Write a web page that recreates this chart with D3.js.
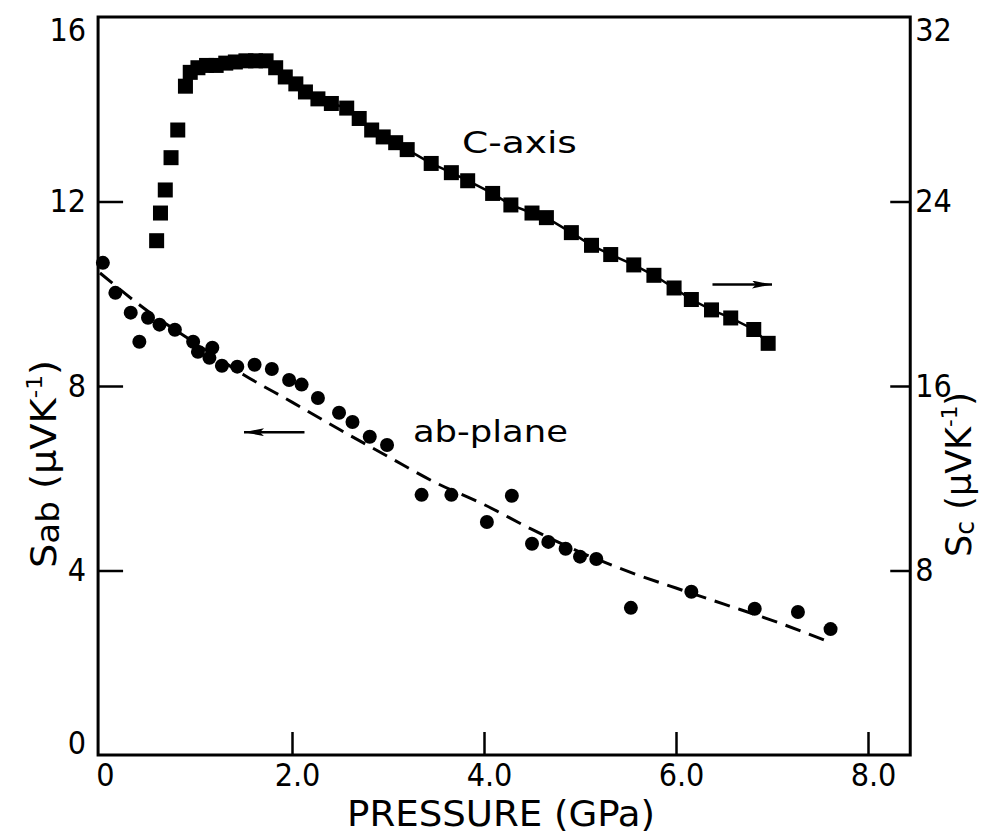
<!DOCTYPE html>
<html>
<head>
<meta charset="utf-8">
<script src="https://cdn.jsdelivr.net/npm/d3@7"></script>
<style>
  body { margin: 0; background: #fff; }
  svg { display: block; }
</style>
</head>
<body>
<div id="chart-container"></div>
<script>
// Données
// Axe c (carrés, échelle de droite)
const pressionC = [0.59, 0.63, 0.68, 0.74, 0.81, 0.89, 0.94, 1.02, 1.11, 1.21, 1.31, 1.41, 1.52, 1.62, 1.73,
    1.83, 1.93, 2.04, 2.14, 2.27, 2.41, 2.57, 2.70, 2.83, 2.95, 3.08, 3.20, 3.45, 3.66, 3.83,
    4.09, 4.28, 4.50, 4.65, 4.91, 5.12, 5.32, 5.56, 5.77, 5.98, 6.16, 6.37, 6.57, 6.81, 6.96];
const seebeckC = [22.3, 23.5, 24.5, 25.9, 27.1, 29.0, 29.6, 29.8, 29.9, 29.9, 30.0, 30.05, 30.1, 30.1, 30.1,
    29.8, 29.4, 29.1, 28.75, 28.45, 28.25, 28.05, 27.6, 27.1, 26.8, 26.55, 26.25, 25.65, 25.25, 24.9,
    24.35, 23.85, 23.5, 23.3, 22.65, 22.1, 21.7, 21.25, 20.8, 20.25, 19.75, 19.3, 18.95, 18.45, 17.85];

// Plan ab (cercles, échelle de gauche)
const pressionAb = [0.03, 0.16, 0.32, 0.41, 0.50, 0.62, 0.78, 0.97, 1.02, 1.17, 1.14, 1.27, 1.43, 1.61, 1.79,
    1.97, 2.10, 2.27, 2.49, 2.63, 2.81, 2.99, 3.35, 3.66, 4.03, 4.29, 4.50, 4.67, 4.85, 5.00,
    5.17, 5.53, 6.16, 6.82, 7.27, 7.61];
const seebeckAb = [10.67, 10.02, 9.59, 8.96, 9.48, 9.33, 9.22, 8.96, 8.74, 8.83, 8.61, 8.44, 8.42, 8.46, 8.37,
    8.13, 8.03, 7.74, 7.42, 7.22, 6.90, 6.72, 5.64, 5.64, 5.05, 5.62, 4.58, 4.62, 4.47, 4.30,
    4.25, 3.19, 3.54, 3.17, 3.10, 2.73];

// Courbe en tirets (ajustement du plan ab)
const ajustP = [0, 0.5, 1.0, 1.5, 2.0, 2.5, 3.0, 3.5, 4.0, 4.5, 5.0, 5.5, 6.0, 6.5, 7.0, 7.62];
const ajustS = [10.45, 9.62, 8.92, 8.24, 7.65, 7.05, 6.47, 5.9, 5.43, 4.89, 4.4, 3.98, 3.62, 3.27, 2.92, 2.43];

// Graduations
const xTicks = [0, 2, 4, 6, 8];
const xTickLabels = ["0", "2.0", "4.0", "6.0", "8.0"];
const yGaucheTicks = [0, 4, 8, 12, 16];
const yDroiteTicks = [8, 16, 24, 32];

document.addEventListener('DOMContentLoaded', () => {
    const W = 982, H = 835;
    const police = "'DejaVu Sans Condensed', 'DejaVu Sans', sans-serif";

    const svg = d3.select("#chart-container")
        .append("svg")
        .attr("width", W)
        .attr("height", H)
        .style("font-family", police);

    // Échelles
    const x = d3.scaleLinear().domain([0, 8]).range([100, 868]);
    const yG = d3.scaleLinear().domain([0, 16]).range([755, 17]);
    const yD = d3.scaleLinear().domain([0, 32]).range([755, 17]);
    const xMin = -0.02, xMax = 8.44;

    // Cadre
    svg.append("rect")
        .attr("x", x(xMin))
        .attr("y", yG(16))
        .attr("width", x(xMax) - x(xMin))
        .attr("height", yG(0) - yG(16))
        .attr("fill", "none")
        .attr("stroke", "#000")
        .attr("stroke-width", 3);

    // Axe X
    svg.append("g")
        .attr("transform", `translate(0,${yG(0)})`)
        .call(d3.axisBottom(x).tickValues(xTicks).tickFormat((d, i) => xTickLabels[i]).tickSize(-23).tickPadding(8))
        .call(g => g.select(".domain").remove())
        .call(g => g.selectAll(".tick").filter(d => d === 0).select("line").remove())
        .call(g => g.selectAll(".tick line").attr("stroke-width", 2.5))
        .selectAll("text")
        .attr("dx", 5)
        .style("font-size", "32px")
        .style("font-family", police)
        .style("fill", "#000");

    // Axe Y gauche
    svg.append("g")
        .attr("transform", `translate(${x(xMin)},0)`)
        .call(d3.axisLeft(yG).tickValues(yGaucheTicks).tickSize(-25).tickPadding(12))
        .call(g => g.select(".domain").remove())
        .call(g => g.selectAll(".tick").filter(d => d === 0 || d === 16).select("line").remove())
        .call(g => g.selectAll(".tick line").attr("stroke-width", 2.5))
        .selectAll("text")
        .attr("y", d => d === 16 ? 13 : d === 0 ? -12 : 0)
        .style("font-size", "32px")
        .style("font-family", police)
        .style("fill", "#000");

    // Axe Y droit
    svg.append("g")
        .attr("transform", `translate(${x(xMax)},0)`)
        .call(d3.axisRight(yD).tickValues(yDroiteTicks).tickSize(-20).tickPadding(5))
        .call(g => g.select(".domain").remove())
        .call(g => g.selectAll(".tick").filter(d => d === 32).select("line").remove())
        .call(g => g.selectAll(".tick line").attr("stroke-width", 2.5))
        .selectAll("text")
        .attr("y", d => d === 32 ? 13 : 0)
        .style("font-size", "32px")
        .style("font-family", police)
        .style("fill", "#000");

    // Courbe ajustée en tirets
    const ajust = ajustP.map((p, i) => [p, ajustS[i]]);
    svg.append("path")
        .datum(ajust)
        .attr("fill", "none")
        .attr("stroke", "#000")
        .attr("stroke-width", 3)
        .attr("stroke-dasharray", "16,9")
        .attr("d", d3.line().x(d => x(d[0])).y(d => yG(d[1])).curve(d3.curveMonotoneX));

    // Ligne continue à travers les carrés
    const caxe = pressionC.map((p, i) => [p, seebeckC[i]]);
    svg.append("path")
        .datum(caxe.slice(5))
        .attr("fill", "none")
        .attr("stroke", "#000")
        .attr("stroke-width", 2.5)
        .attr("d", d3.line().x(d => x(d[0])).y(d => yD(d[1])));

    // Carrés (axe c)
    svg.selectAll(".carre")
        .data(caxe)
        .enter()
        .append("rect")
        .attr("class", "carre")
        .attr("x", d => x(d[0]) - 7.5)
        .attr("y", d => yD(d[1]) - 7.5)
        .attr("width", 15)
        .attr("height", 15)
        .attr("fill", "#000");

    // Cercles (plan ab)
    svg.selectAll(".rond")
        .data(pressionAb.map((p, i) => [p, seebeckAb[i]]))
        .enter()
        .append("circle")
        .attr("class", "rond")
        .attr("cx", d => x(d[0]))
        .attr("cy", d => yG(d[1]))
        .attr("r", 7)
        .attr("fill", "#000");

    // Flèches
    svg.append("defs").append("marker")
        .attr("id", "pointe")
        .attr("viewBox", "0 0 20 8")
        .attr("refX", 20)
        .attr("refY", 4)
        .attr("markerWidth", 20)
        .attr("markerHeight", 8)
        .attr("markerUnits", "userSpaceOnUse")
        .attr("orient", "auto")
        .append("path")
        .attr("d", "M0,0 L20,4 L0,8 L4,4 Z")
        .attr("fill", "#000");

    svg.append("line")
        .attr("x1", x(2.13)).attr("y1", yG(7.0))
        .attr("x2", x(1.5)).attr("y2", yG(7.0))
        .attr("stroke", "#000").attr("stroke-width", 2.5)
        .attr("marker-end", "url(#pointe)");

    svg.append("line")
        .attr("x1", x(6.38)).attr("y1", yD(20.4))
        .attr("x2", x(7.0)).attr("y2", yD(20.4))
        .attr("stroke", "#000").attr("stroke-width", 2.5)
        .attr("marker-end", "url(#pointe)");

    // Étiquettes des séries
    svg.append("text")
        .attr("x", x(3.77))
        .attr("y", yD(26.1))
        .attr("textLength", 115)
        .attr("lengthAdjust", "spacingAndGlyphs")
        .style("font-size", "31px")
        .text("C-axis");

    svg.append("text")
        .attr("x", x(3.26))
        .attr("y", yG(6.79))
        .attr("textLength", 155)
        .attr("lengthAdjust", "spacingAndGlyphs")
        .style("font-size", "31px")
        .text("ab-plane");

    // Titre de l'axe X
    svg.append("text")
        .attr("x", 347)
        .attr("y", 826)
        .attr("textLength", 308)
        .attr("lengthAdjust", "spacingAndGlyphs")
        .style("font-size", "36px")
        .text("PRESSURE (GPa)");

    // Titre de l'axe Y gauche
    const titreG = svg.append("text")
        .attr("transform", "translate(56,568) rotate(-90)")
        .attr("textLength", 208)
        .attr("lengthAdjust", "spacingAndGlyphs")
        .style("font-size", "36px");
    titreG.append("tspan").text("S");
    titreG.append("tspan").attr("dy", 3).style("font-size", "32px").text("ab");
    titreG.append("tspan").attr("dy", -3).text(" (μVK");
    titreG.append("tspan").attr("dy", -14).style("font-size", "22px").text("-1");
    titreG.append("tspan").attr("dy", 14).text(")");

    // Titre de l'axe Y droit
    const titreD = svg.append("text")
        .attr("transform", "translate(971,557) rotate(-90)")
        .attr("textLength", 165)
        .attr("lengthAdjust", "spacingAndGlyphs")
        .style("font-size", "36px");
    titreD.append("tspan").text("S");
    titreD.append("tspan").attr("dy", 3).style("font-size", "26px").text("c");
    titreD.append("tspan").attr("dy", -3).text(" (μVK");
    titreD.append("tspan").attr("dy", -14).style("font-size", "22px").text("-1");
    titreD.append("tspan").attr("dy", 14).text(")");
});
</script>
</body>
</html>
